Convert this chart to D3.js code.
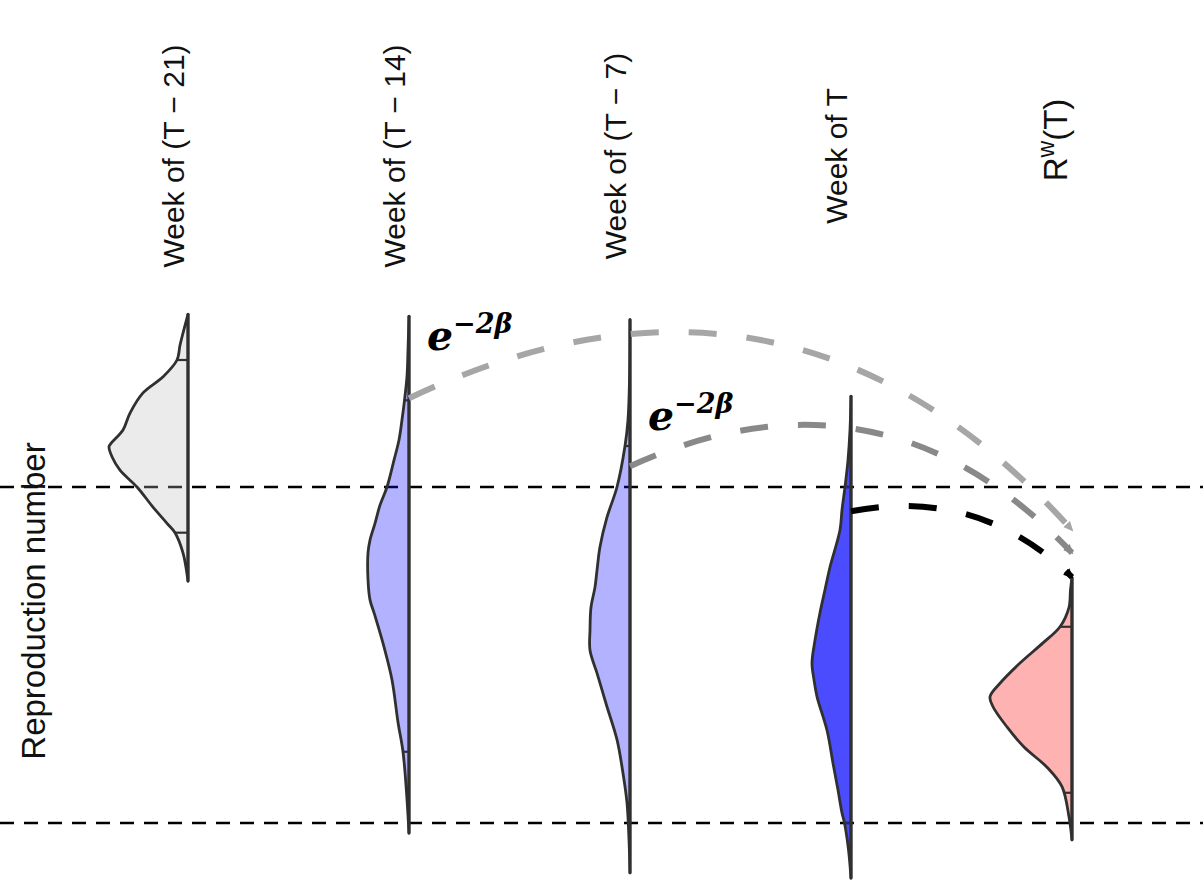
<!DOCTYPE html>
<html>
<head>
<meta charset="utf-8">
<script src="https://cdn.jsdelivr.net/npm/d3@7"></script>
<style>
  body { margin: 0; background: #fff; }
  svg { display: block; }
</style>
</head>
<body>
<svg id="chart" width="1203" height="882"></svg>
<script>
// Weekly posterior distributions of the reproduction number
const weeks = ["T-21", "T-14", "T-7", "T", "Rw"];

// Density profiles: [reproduction number, density], top to bottom
const densityT21 = [[1.257,0],[1.229,0.05],[1.211,0.08],[1.189,0.11],[1.164,0.25],[1.140,0.45],
  [1.110,0.58],[1.085,0.65],[1.065,0.77],[1.060,0.79],[1.045,0.76],[1.025,0.68],[1.000,0.51],
  [0.970,0.35],[0.946,0.21],[0.932,0.13],[0.902,0.05],[0.860,0]];
const densityT14 = [[1.254,0],[1.204,0.01],[1.165,0.02],[1.129,0.045],[1.100,0.07],[1.070,0.10],
  [1.040,0.15],[1.000,0.22],[0.973,0.29],[0.946,0.34],[0.921,0.39],[0.902,0.41],[0.862,0.41],
  [0.832,0.39],[0.813,0.35],[0.762,0.25],[0.713,0.17],[0.650,0.11],[0.606,0.06],[0.546,0.025],[0.485,0]];
const densityT7 = [[1.249,0],[1.159,0.005],[1.100,0.02],[1.061,0.05],[1.000,0.13],[0.955,0.23],
  [0.911,0.30],[0.876,0.33],[0.851,0.35],[0.821,0.39],[0.787,0.40],[0.757,0.40],[0.723,0.33],
  [0.698,0.28],[0.673,0.23],[0.624,0.13],[0.574,0.07],[0.530,0.03],[0.475,0.01],[0.426,0]];
const densityT = [[1.135,0],[1.085,0.01],[1.040,0.03],[1.000,0.06],[0.966,0.09],[0.936,0.11],
  [0.881,0.21],[0.847,0.26],[0.813,0.31],[0.772,0.36],[0.738,0.39],[0.713,0.37],[0.688,0.34],
  [0.638,0.24],[0.589,0.18],[0.549,0.13],[0.515,0.09],[0.500,0.065],[0.460,0.025],[0.418,0]];
const densityRw = [[0.865,0],[0.847,0.015],[0.821,0.03],[0.792,0.12],[0.768,0.29],[0.738,0.52],
  [0.708,0.72],[0.688,0.82],[0.673,0.79],[0.643,0.65],[0.613,0.48],[0.583,0.25],[0.554,0.10],
  [0.509,0.03],[0.475,0]];

// 2.5% and 97.5% quantiles of each distribution
const quantT21 = [1.189, 0.932];
const quantT14 = [1.129, 0.606];
const quantT7 = [1.061, 0.530];
const quantT = [1.000, 0.500];
const quantRw = [0.792, 0.545];

// Discounted contributions of earlier weeks to the weighted estimate
const arcSource = ["T-14", "T-7", "T"];
const arcStartR = [1.132, 1.031, 0.964];
const arcEndR = [0.936, 0.902, 0.866];
const arcBend = [0.186, 0.178, 0.13];
const arcColor = ["#a6a6a6", "#898989", "#000000"];
const weightLabelR = [1.204, 1.085];

const profiles = [densityT21, densityT14, densityT7, densityT, densityRw];
const quantiles = [quantT21, quantT14, quantT7, quantT, quantRw];
const fillColor = ["#bebebe", "#0000ff", "#0000ff", "#0000ff", "#ff0000"];
const fillAlpha = [0.3, 0.3, 0.3, 0.7, 0.3];

const svg = d3.select("#chart");
const W = 1203;

const x = d3.scalePoint().domain(weeks).range([188, 1072]);
const y = d3.scaleLinear().domain([0.5, 1.0]).range([823, 487]);
const w = d3.scaleLinear().domain([0, 1]).range([0, 100]);

// Reference lines at the 95% bounds of the current week
svg.append("g").selectAll("line").data(quantT).join("line")
  .attr("x1", 0).attr("x2", W)
  .attr("y1", d => y(d)).attr("y2", d => y(d))
  .attr("stroke", "#000").attr("stroke-width", 2.5)
  .attr("stroke-dasharray", "14,10");

function densityAt(profile, r) {
  for (let i = 0; i < profile.length - 1; i++) {
    const a = profile[i], b = profile[i + 1];
    if (r <= a[0] && r >= b[0]) {
      const t = (a[0] - r) / (a[0] - b[0]);
      return a[1] + t * (b[1] - a[1]);
    }
  }
  return 0;
}

// Half violins
const gv = svg.append("g");
weeks.forEach((wk, i) => {
  const cx = x(wk);
  const prof = profiles[i];
  const area = d3.area()
    .curve(d3.curveCatmullRom.alpha(0.5))
    .y(d => y(d[0]))
    .x0(cx)
    .x1(d => cx - w(d[1]));
  gv.append("path")
    .attr("d", area(prof))
    .attr("fill", fillColor[i]).attr("fill-opacity", fillAlpha[i])
    .attr("stroke", "#303030").attr("stroke-width", 2.8)
    .attr("stroke-linejoin", "round");
  quantiles[i].forEach(q => {
    gv.append("line")
      .attr("x1", cx - w(densityAt(prof, q))).attr("x2", cx)
      .attr("y1", y(q)).attr("y2", y(q))
      .attr("stroke", "#303030").attr("stroke-width", 2.2);
  });
  gv.append("line")
    .attr("x1", cx).attr("x2", cx)
    .attr("y1", y(prof[0][0])).attr("y2", y(prof[prof.length - 1][0]))
    .attr("stroke", "#303030").attr("stroke-width", 3)
    .attr("stroke-linecap", "round");
});

// Arrowheads
const defs = svg.append("defs");
arcColor.forEach((c, i) => {
  defs.append("marker")
    .attr("id", "head" + i)
    .attr("viewBox", "0 0 10 10")
    .attr("refX", 8).attr("refY", 5)
    .attr("markerUnits", "userSpaceOnUse")
    .attr("markerWidth", 10).attr("markerHeight", 10)
    .attr("orient", "auto")
    .append("path").attr("d", "M0,0.5 L10,5 L0,9.5 Z").attr("fill", c);
});

// Curved dashed arrows
const ga = svg.append("g");
arcSource.forEach((src, i) => {
  const sx = x(src), sy = y(arcStartR[i]);
  const ex = x("Rw"), ey = y(arcEndR[i]);
  const dx = ex - sx, dy = ey - sy, L = Math.hypot(dx, dy);
  const nx = dy / L, ny = -dx / L;
  const off = 2 * arcBend[i] * L;
  const qx = (sx + ex) / 2 + nx * off, qy = (sy + ey) / 2 + ny * off;
  ga.append("path")
    .attr("d", `M${sx},${sy} Q${qx},${qy} ${ex},${ey}`)
    .attr("fill", "none")
    .attr("stroke", arcColor[i]).attr("stroke-width", 6)
    .attr("stroke-dasharray", "28,30")
    .attr("marker-end", `url(#head${i})`);
});

// Weight labels
weightLabelR.forEach((r, i) => {
  const t = svg.append("text")
    .attr("x", x(arcSource[i]) + 18).attr("y", y(r))
    .attr("font-family", "DejaVu Serif, serif")
    .attr("font-weight", "bold").attr("font-style", "italic")
    .attr("fill", "#000");
  t.append("tspan").attr("font-size", 41).text("e");
  t.append("tspan").attr("font-size", 27).attr("dy", -17).text("\u22122\u03B2");
});

// Column headings
const headings = ["Week of (T \u2212 21)", "Week of (T \u2212 14)", "Week of (T \u2212 7)", "Week of T"];
const gh = svg.append("g")
  .attr("font-family", "Liberation Sans, Arial, Helvetica, sans-serif")
  .attr("font-size", 30).attr("fill", "#111");
headings.forEach((h, i) => {
  const cx = x(weeks[i]) - 4;
  gh.append("text")
    .attr("transform", `translate(${cx},156) rotate(-90)`)
    .attr("text-anchor", "middle")
    .text(h);
});
const rw = gh.append("text")
  .attr("transform", `translate(${x("Rw") - 5},140) rotate(-90)`)
  .attr("text-anchor", "middle")
  .attr("font-size", 33);
rw.append("tspan").text("R");
rw.append("tspan").attr("font-size", 23).attr("dy", -13).text("w");
rw.append("tspan").attr("dy", 13).text("(T)");

// Axis title
svg.append("text")
  .attr("transform", "translate(45,601) rotate(-90)")
  .attr("text-anchor", "middle")
  .attr("font-family", "Liberation Sans, Arial, Helvetica, sans-serif")
  .attr("font-size", 33).attr("fill", "#111")
  .text("Reproduction number");
</script>
</body>
</html>
